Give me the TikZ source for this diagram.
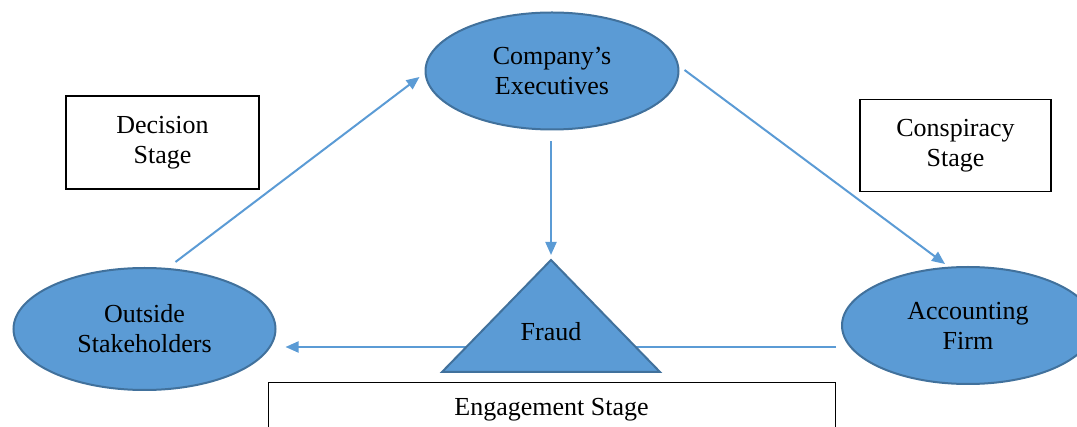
\documentclass[tikz,border=0pt]{standalone}
\usepackage{fontspec}
\setmainfont{Liberation Serif}
\usetikzlibrary{shapes.geometric,arrows.meta}
\definecolor{fillblue}{HTML}{5B9BD5}
\definecolor{edgeblue}{HTML}{41719C}
\tikzset{
  actor/.style={ellipse, draw=edgeblue, fill=fillblue, line width=2pt, inner sep=0pt, align=center,
    font=\fontsize{26}{30}\selectfont},
  stagebox/.style={draw=black, line width=1.2pt, fill=white, inner sep=0pt, align=center,
    font=\fontsize{26}{30}\selectfont},
  lbl/.style={align=center, font=\fontsize{26}{30}\selectfont, inner sep=0pt},
  arr/.style={draw=fillblue, line width=2pt, -{Triangle[length=13pt,width=11pt]}},
}
\begin{document}
\begin{tikzpicture}[x=1pt,y=-1pt]
\useasboundingbox (0,0) rectangle (1077,427);
% stage boxes
\node[stagebox, minimum width=193pt, minimum height=93pt] (dec) at (162.5,142.5) {Decision\\Stage};
\node[stagebox, minimum width=191pt, minimum height=92pt] (con) at (955.5,145.5) {Conspiracy\\Stage};
\node[stagebox, minimum width=567pt, minimum height=56pt, anchor=north west] (eng) at (268,382) {};
\node[lbl] (engt) at (551.5,410) {Engagement Stage};
% ellipses
\node[actor, minimum width=253pt, minimum height=117pt] (ce) at (552,71) {Company’s\\Executives};
\node[actor, minimum width=262pt, minimum height=122pt] (os) at (144.5,329) {Outside\\Stakeholders};
\node[actor, minimum width=252pt, minimum height=117pt] (af) at (968,325.5) {Accounting\\Firm};
% horizontal connector (behind triangle)
\draw[arr] ([xshift=-5pt,yshift=-21.5pt]af.west) -- ([xshift=9pt,yshift=-18pt]os.east);
% fraud triangle
\coordinate (apex) at (551,260);
\coordinate (bl) at (442,372);
\coordinate (br) at (660,372);
\path[draw=edgeblue, fill=fillblue, line width=2pt, line join=miter] (apex) -- (bl) -- (br) -- cycle;
\node[lbl] (fraud) at (551,332) {Fraud};
% arrows
\draw[arr] ([xshift=31pt,yshift=5pt]os.north) -- ([xshift=-5pt,yshift=-6pt]ce.west);
\draw[arr] ([xshift=5pt,yshift=1pt]ce.east) -- ([xshift=-23pt,yshift=2pt]af.north);
\draw[arr] ([yshift=-11pt]ce.south -| apex) -- ([yshift=5pt]apex);
\end{tikzpicture}
\end{document}
